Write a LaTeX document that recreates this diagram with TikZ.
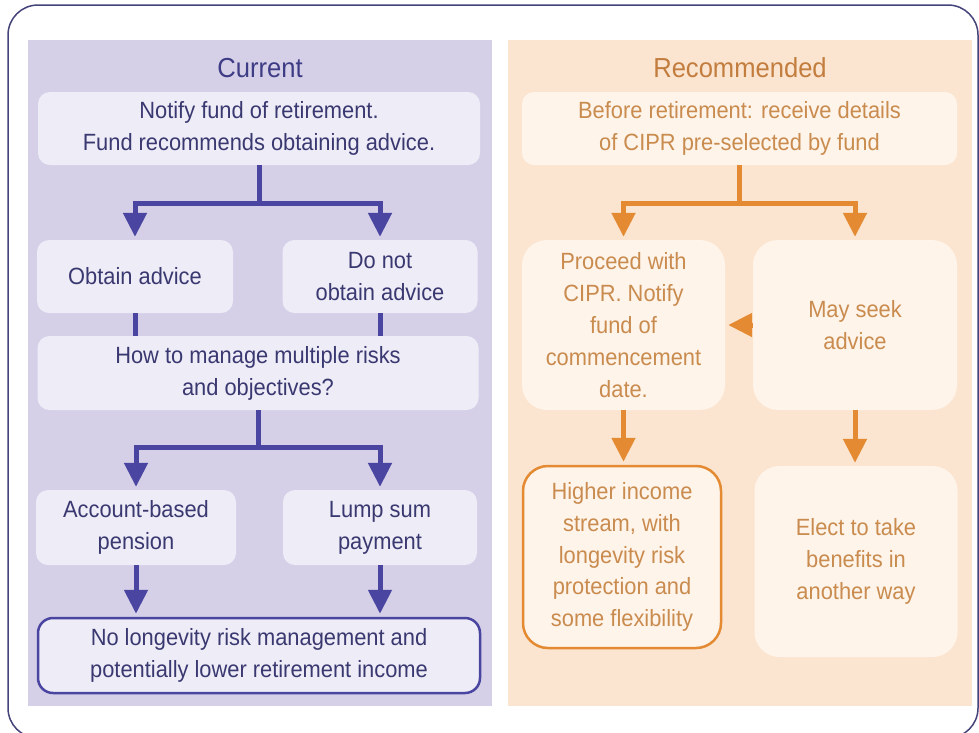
\documentclass[tikz,border=0pt]{standalone}
\usepackage{fontspec}
\setmainfont{Liberation Sans}[FakeStretch=0.93]
\usetikzlibrary{arrows.meta}

\definecolor{frameline}{HTML}{45447A}
\definecolor{curpanel}{HTML}{D5D0E8}
\definecolor{curbox}{HTML}{EEEDF7}
\definecolor{curtext}{HTML}{3A3870}
\definecolor{curtitle}{HTML}{3F3C86}
\definecolor{curline}{HTML}{4A45A0}
\definecolor{recpanel}{HTML}{FCE5D0}
\definecolor{recbox}{HTML}{FEF4EA}
\definecolor{rectext}{HTML}{C98B4E}
\definecolor{rectitle}{HTML}{C27D3F}
\definecolor{recline}{HTML}{E38A33}

\begin{document}
\begin{tikzpicture}[x=1pt,y=-1pt,
    cbox/.style={fill=curbox, text=curtext, rounded corners=12pt, align=center,
        inner sep=0pt, font=\fontsize{23.5}{32}\selectfont},
    rbox/.style={fill=recbox, text=rectext, rounded corners=12pt, align=center,
        inner sep=0pt, font=\fontsize{23.5}{31.8}\selectfont},
    curarrow/.style={draw=curline, line width=5pt, shorten >=3pt,
        -{Triangle[width=23pt,length=24pt]}},
    recarrow/.style={draw=recline, line width=5pt, shorten >=3pt,
        -{Triangle[width=23pt,length=24pt]}},
    curstem/.style={draw=curline, line width=5pt},
    recstem/.style={draw=recline, line width=5pt}]
    \useasboundingbox (0,0) rectangle (979,732);

    % Draw frame and panels
    \fill[white] (0,0) rectangle (979,732);
    \draw[frameline, line width=1.5pt, rounded corners=30pt] (8,5) rectangle (978,738);
    \fill[curpanel] (28,40) rectangle (492,706);
    \fill[recpanel] (508,40) rectangle (972,706);

    % Titles
    \node[text=curtitle, font=\fontsize{27.5}{30}\selectfont] (ctitle) at (260,68) {Current};
    \node[text=rectitle, font=\fontsize{27.5}{30}\selectfont] (rtitle) at (740,68) {Recommended};

    % Current boxes
    \node[cbox, minimum width=442pt, minimum height=73pt] (cnotify) at (259,128.5)
        {Notify fund of retirement.\\Fund recommends obtaining advice.};
    \node[cbox, minimum width=196pt, minimum height=73pt] (cobtain) at (135,276.5)
        {Obtain advice};
    \node[cbox, minimum width=195pt, minimum height=73pt] (cnot) at (380,276.5)
        {Do not\\obtain advice};
    \node[cbox, minimum width=441pt, minimum height=74pt] (cmanage) at (258,373)
        {How to manage multiple risks\\and objectives?};
    \node[cbox, minimum width=200pt, minimum height=75pt] (caccount) at (136,527.5)
        {Account-based\\pension};
    \node[cbox, minimum width=194pt, minimum height=75pt] (clump) at (380,527.5)
        {Lump sum\\payment};
    \node[cbox, draw=curline, line width=2.5pt, rounded corners=15pt,
        minimum width=442pt, minimum height=75pt] (cnolong) at (259,655.5)
        {No longevity risk management and\\potentially lower retirement income};

    % Recommended boxes
    \node[rbox, minimum width=435pt, minimum height=73pt] (rbefore) at (739.5,128.5)
        {Before retirement: receive details\\of CIPR pre-selected by fund};
    \node[rbox, rounded corners=25pt, minimum width=203pt, minimum height=170pt] (rproceed) at (623.5,325)
        {Proceed with\\CIPR. Notify\\fund of\\commencement\\date.};
    \node[rbox, rounded corners=25pt, minimum width=204pt, minimum height=170pt] (rseek) at (855,325)
        {May seek\\advice};
    \node[rbox, draw=recline, line width=2.5pt, rounded corners=25pt,
        minimum width=198pt, minimum height=182pt] (rhigher) at (622,557)
        {Higher income\\stream, with\\longevity risk\\protection and\\some flexibility};
    \node[rbox, rounded corners=25pt, minimum width=203pt, minimum height=191pt] (relect) at (856,561.5)
        {Elect to take\\benefits in\\another way};

    % Current connectors
    \draw[curstem] (cnotify.south) -- ++(0,38) coordinate (cfork);
    \draw[curarrow] (cfork) -| (cobtain.north);
    \draw[curarrow] (cfork) -| (cnot.north);
    \draw[curstem] (cobtain.south) -- (cobtain.south |- cmanage.north);
    \draw[curstem] (cnot.south) -- (cnot.south |- cmanage.north);
    \draw[curstem] (cmanage.south) -- ++(0,37) coordinate (cfork2);
    \draw[curarrow] (cfork2) -| (caccount.north);
    \draw[curarrow] (cfork2) -| (clump.north);
    \draw[curarrow] (caccount.south) -- (caccount.south |- cnolong.north);
    \draw[curarrow] (clump.south) -- (clump.south |- cnolong.north);

    % Recommended connectors
    \draw[recstem] (rbefore.south) -- ++(0,38) coordinate (rfork);
    \draw[recarrow] (rfork) -| (rproceed.north);
    \draw[recarrow] (rfork) -| (rseek.north);
    \draw[recarrow] (rseek.west) -- (rproceed.east);
    \draw[recarrow] (rproceed.south) -- (rproceed.south |- rhigher.north);
    \draw[recarrow] (rseek.south) -- (rseek.south |- relect.north);
\end{tikzpicture}
\end{document}
